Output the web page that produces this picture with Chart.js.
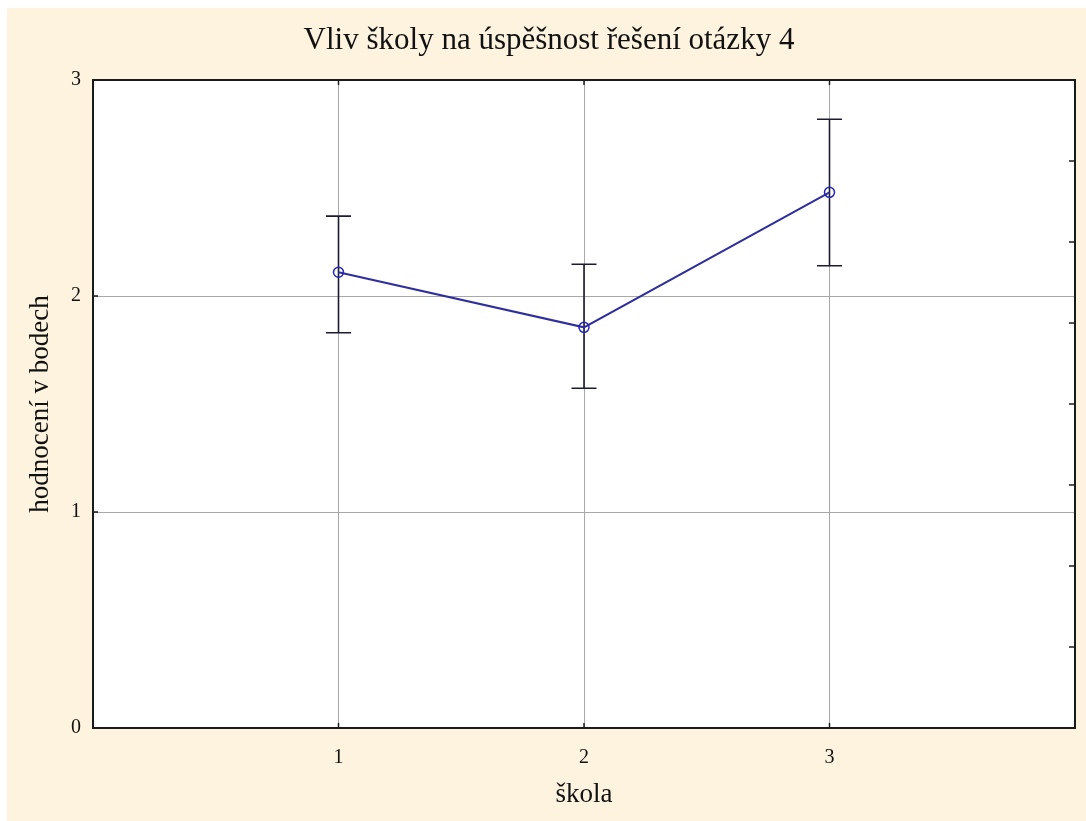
<!DOCTYPE html>
<html>
<head>
<meta charset="utf-8">
<script src="https://cdn.jsdelivr.net/npm/chart.js@4"></script>
<style>
  html, body { margin: 0; padding: 0; background: #fff; }
  #wrap { width: 1086px; height: 821px; }
</style>
</head>
<body>
<div id="wrap"><canvas id="chart" width="1086" height="821"></canvas></div>
<script>
// data
const schools = [1, 2, 3];
const means = [2.11, 1.855, 2.48];
const upper = [2.37, 2.147, 2.818];
const lower = [1.83, 1.573, 2.14];
const xTicks = [1, 2, 3];
const yTicks = [0, 1, 2, 3];

const serif = "'Liberation Serif', 'DejaVu Serif', serif";

// cream frame + white plot area
const background = {
    id: "background",
    beforeDraw(chart) {
        const ctx = chart.ctx;
        const a = chart.chartArea;
        ctx.save();
        ctx.fillStyle = "#fdf3df";
        ctx.fillRect(7, 8, chart.width - 7, chart.height - 8);
        ctx.fillStyle = "#ffffff";
        ctx.fillRect(a.left, a.top, a.right - a.left, a.bottom - a.top);
        ctx.restore();
    }
};

// whiskers, drawn under the line
const errorBars = {
    id: "errorBars",
    beforeDatasetsDraw(chart) {
        const ctx = chart.ctx;
        const x = chart.scales.x;
        const y = chart.scales.y;
        ctx.save();
        ctx.strokeStyle = "#1c1c30";
        ctx.lineWidth = 1.6;
        schools.forEach((s, i) => {
            const px = x.getPixelForValue(s);
            const top = y.getPixelForValue(upper[i]);
            const bot = y.getPixelForValue(lower[i]);
            ctx.beginPath();
            ctx.moveTo(px, top);
            ctx.lineTo(px, bot);
            ctx.moveTo(px - 12.5, top);
            ctx.lineTo(px + 12.5, top);
            ctx.moveTo(px - 12.5, bot);
            ctx.lineTo(px + 12.5, bot);
            ctx.stroke();
        });
        ctx.restore();
    }
};

// frame and inward tick marks
const frame = {
    id: "frame",
    afterDraw(chart) {
        const ctx = chart.ctx;
        const a = chart.chartArea;
        const x = chart.scales.x;
        const y = chart.scales.y;
        const y2 = chart.scales.y2;
        ctx.save();
        ctx.strokeStyle = "#1a1a1a";
        ctx.lineWidth = 1.5;
        xTicks.forEach(v => {
            const px = x.getPixelForValue(v);
            ctx.beginPath();
            ctx.moveTo(px, a.top); ctx.lineTo(px, a.top + 5);
            ctx.moveTo(px, a.bottom); ctx.lineTo(px, a.bottom - 5);
            ctx.stroke();
        });
        [1, 2].forEach(v => {
            const py = y.getPixelForValue(v);
            ctx.beginPath();
            ctx.moveTo(a.left, py); ctx.lineTo(a.left + 5, py);
            ctx.stroke();
        });
        for (let v = 1; v < 8; v++) {
            const py = y2.getPixelForValue(v);
            ctx.beginPath();
            ctx.moveTo(a.right, py); ctx.lineTo(a.right - 6, py);
            ctx.stroke();
        }
        ctx.lineWidth = 2;
        ctx.strokeRect(a.left, a.top, a.right - a.left, a.bottom - a.top);
        ctx.restore();
    }
};

new Chart(document.getElementById("chart"), {
    type: "line",
    data: {
        datasets: [{
            data: schools.map((s, i) => ({ x: s, y: means[i] })),
            borderColor: "#2e2e9e",
            borderWidth: 2,
            pointRadius: 5,
            pointBorderWidth: 1.5,
            pointBorderColor: "#2424b8",
            pointBackgroundColor: "rgba(0,0,0,0)",
            tension: 0
        }]
    },
    options: {
        responsive: false,
        animation: false,
        layout: { padding: { left: 23, top: 8, right: 11, bottom: 7 } },
        plugins: {
            legend: { display: false },
            tooltip: { enabled: false },
            title: {
                display: true,
                text: "Vliv školy na úspěšnost řešení otázky 4",
                color: "#111",
                font: { family: serif, size: 31, weight: "normal" },
                padding: { top: 14, bottom: 20.8 }
            }
        },
        scales: {
            x: {
                type: "linear",
                min: 0,
                max: 4,
                afterBuildTicks: s => { s.ticks = xTicks.map(v => ({ value: v })); },
                afterFit: s => { s.height = 86; },
                grid: { color: "#a8a8a8", lineWidth: 1, drawTicks: false },
                border: { display: false },
                ticks: {
                    color: "#111",
                    padding: 18,
                    font: { family: serif, size: 20 }
                },
                title: {
                    display: true,
                    text: "škola",
                    color: "#111",
                    font: { family: serif, size: 27 },
                    padding: 3
                }
            },
            y: {
                type: "linear",
                min: 0,
                max: 3,
                afterBuildTicks: s => { s.ticks = yTicks.map(v => ({ value: v })); },
                afterFit: s => { s.width = 70; },
                grid: { color: "#a8a8a8", lineWidth: 1, drawTicks: false },
                border: { display: false },
                ticks: {
                    color: "#111",
                    padding: 12,
                    font: { family: serif, size: 20 }
                },
                title: {
                    display: true,
                    text: "hodnocení v bodech",
                    color: "#111",
                    font: { family: serif, size: 27 },
                    padding: 2
                }
            },
            y2: {
                type: "linear",
                position: "right",
                min: 0,
                max: 8,
                display: false
            }
        }
    },
    plugins: [background, errorBars, frame]
});
</script>
</body>
</html>
